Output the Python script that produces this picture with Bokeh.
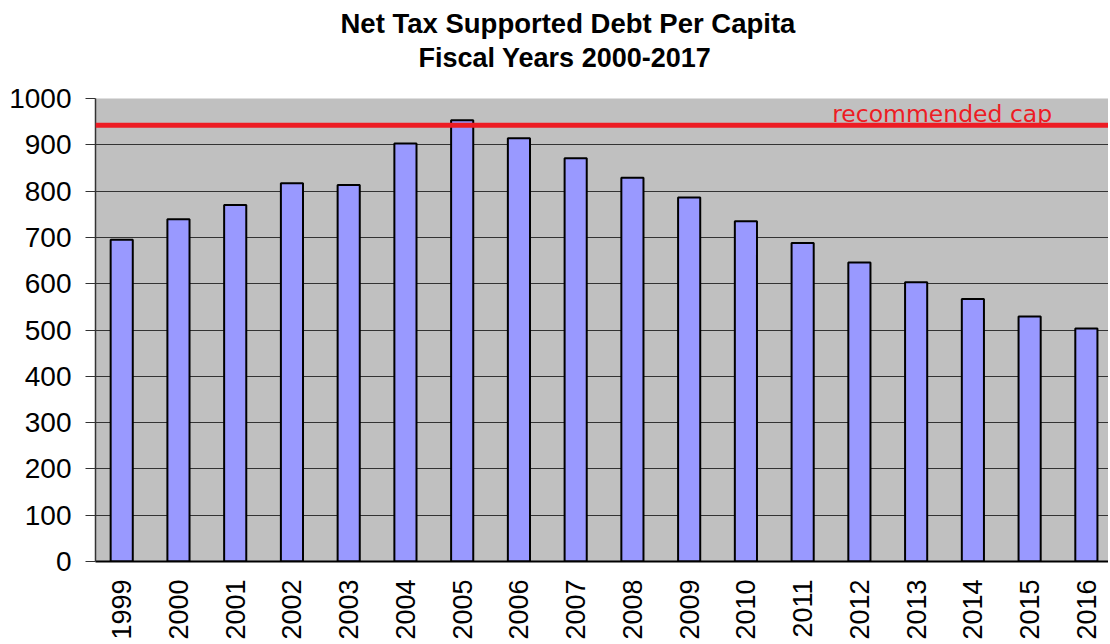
import math
from bokeh.plotting import figure
from bokeh.models import Range1d, Span, Label, FixedTicker, Title
from bokeh.embed import file_html
from bokeh.resources import INLINE

years = ["1999", "2000", "2001", "2002", "2003", "2004", "2005", "2006", "2007",
         "2008", "2009", "2010", "2011", "2012", "2013", "2014", "2015", "2016"]
debt = [695, 739, 770, 817, 813, 903, 953, 914, 871,
        829, 786, 735, 688, 646, 603, 567, 529, 503]
cap_value = 942
cap_label = "recommended cap"
y_ticks = [0, 100, 200, 300, 400, 500, 600, 700, 800, 900, 1000]
title_line1 = "Net Tax Supported Debt Per Capita"
title_line2 = "Fiscal Years 2000-2017"

idx = list(range(len(years)))

p = figure(width=1108, height=642, output_backend="svg", toolbar_location=None,
           x_range=Range1d(-0.462, 17.39), y_range=Range1d(0, 1000),
           min_border_left=95, min_border_right=0, min_border_top=98, min_border_bottom=81,
           background_fill_color="#C0C0C0", border_fill_color="white", title=None)

# two-line title (second line added first: closest to the plot)
p.add_layout(Title(text=title_line2, align="left", offset=323,
                   text_font="Liberation Sans", text_font_size="27px",
                   text_font_style="bold", text_color="black", standoff=52), "above")
p.add_layout(Title(text=title_line1, align="left", offset=245,
                   text_font="Liberation Sans", text_font_size="27.5px",
                   text_font_style="bold", text_color="black", standoff=-48), "above")

p.outline_line_color = None

p.vbar(x=idx, top=debt, width=0.39, bottom=0,
       fill_color="#9999FF", line_color="black", line_width=2)

p.add_layout(Span(location=cap_value, dimension="width",
                  line_color="#ED1C24", line_width=5))
p.add_layout(Label(x=12.52, y=cap_value, text=cap_label, y_offset=11,
                   text_font="DejaVu Sans", text_font_size="23.5px",
                   text_color="#ED1C24", text_baseline="alphabetic"))

# grid
p.xgrid.visible = False
p.ygrid.grid_line_color = "#333333"
p.ygrid.grid_line_width = 1
p.ygrid.ticker = FixedTicker(ticks=y_ticks)

# y axis
p.yaxis.ticker = FixedTicker(ticks=y_ticks)
p.yaxis.major_label_text_font = "Liberation Sans"
p.yaxis.major_label_text_font_size = "28px"
p.yaxis.major_label_text_color = "black"
p.yaxis.axis_line_color = "#333333"
p.yaxis.axis_line_width = 1.5
p.yaxis.major_tick_line_color = "#333333"
p.yaxis.major_tick_out = 10
p.yaxis.major_tick_in = 0
p.yaxis.minor_tick_line_color = None
p.yaxis.major_label_standoff = 14

# x axis
p.xaxis.ticker = FixedTicker(ticks=idx)
p.xaxis.major_label_overrides = {i: y for i, y in zip(idx, years)}
p.xaxis.major_label_orientation = math.pi / 2
p.xaxis.major_label_text_font = "Liberation Sans"
p.xaxis.major_label_text_font_size = "27px"
p.xaxis.major_label_text_color = "black"
p.xaxis.axis_line_color = "black"
p.xaxis.axis_line_width = 2
p.xaxis.major_tick_line_color = None
p.xaxis.minor_tick_line_color = None
p.xaxis.major_label_standoff = 12

open("out.html", "w").write(file_html(p, INLINE))
